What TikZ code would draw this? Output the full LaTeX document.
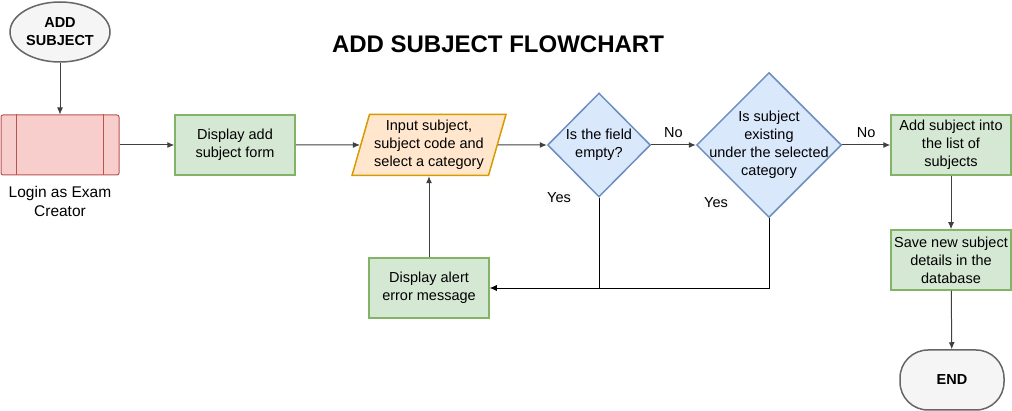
\documentclass[tikz,border=0pt]{standalone}
\usepackage{xcolor}
\usepackage{fontspec}
\setmainfont{Liberation Sans}
\definecolor{greenfill}{HTML}{D5E8D4}
\definecolor{greenline}{HTML}{82B366}
\definecolor{redfill}{HTML}{F8CECC}
\definecolor{redline}{HTML}{B85450}
\definecolor{orangefill}{HTML}{FFE6CC}
\definecolor{orangeline}{HTML}{D79B00}
\definecolor{bluefill}{HTML}{DAE8FC}
\definecolor{blueline}{HTML}{6C8EBF}
\definecolor{greyfill}{HTML}{F5F5F5}
\definecolor{greyline}{HTML}{666666}
\usepackage{tikz}
\usetikzlibrary{shapes.geometric,arrows.meta}
\tikzset{
    txt/.style={font=\fontsize{14.5}{18}\selectfont, align=center},
    task/.style={txt, draw=greenline, fill=greenfill, line width=1.5pt, minimum width=120pt, minimum height=60pt, inner sep=0pt},
    login/.style={draw=redline, fill=redfill, line width=1pt, rounded corners=2pt, minimum width=118pt, minimum height=60pt},
    inbox/.style={txt, trapezium, trapezium left angle=72, trapezium right angle=108, trapezium stretches=true, draw=orangeline, fill=orangefill, line width=1.5pt, minimum width=154pt, minimum height=61pt, inner sep=0pt},
    decision/.style={diamond, draw=blueline, fill=bluefill, line width=1.5pt, inner sep=0pt},
    terminal/.style={txt, font=\fontsize{14.5}{18}\selectfont\bfseries, draw=greyline, fill=greyfill, line width=1.5pt},
    flow/.style={-{Latex[length=7pt,width=6pt]}, line width=1pt, black!75},
    back/.style={line width=0.7pt, black}
}
\begin{document}
\begin{tikzpicture}[x=1pt, y=-1pt]
    \useasboundingbox (0,0) rectangle (1012,411);
    \node[font=\fontsize{24}{28}\selectfont\bfseries] (title) at (498,44) {ADD SUBJECT FLOWCHART};

    \node[terminal, ellipse, minimum width=100pt, minimum height=60pt, inner sep=0pt] (start) at (60,32) {ADD\\SUBJECT};
    \node[login] (creator) at (60,145) {};
    \draw[redline, line width=1pt] ([xshift=16pt]creator.north west) -- ([xshift=16pt]creator.south west);
    \draw[redline, line width=1pt] ([xshift=-16pt]creator.north east) -- ([xshift=-16pt]creator.south east);
    \node[txt, font=\fontsize{15.5}{19}\selectfont] (creatorlbl) at (60,201) {Login as Exam\\Creator};

    \node[task] (form) at (235,145) {Display add\\subject form};
    \node[inbox] (input) at (429,145) {Input subject,\\subject code and\\select a category};
    \node[decision, minimum width=103pt, minimum height=104pt, label={[txt]center:Is the field\\empty?}] (empty) at (599,145) {};
    \node[decision, minimum width=145pt, minimum height=145pt, label={[txt]center:Is subject\\existing\\under the selected\\category}] (exists) at (769,145) {};
    \node[task] (add) at (951,145) {Add subject into\\the list of\\subjects};
    \node[task] (save) at (951,260) {Save new subject\\details in the\\database};
    \node[terminal, rounded corners=28pt, minimum width=104pt, minimum height=60pt] (end) at (952,380) {END};
    \node[task] (alert) at (429,288) {Display alert\\error message};

    % main line
    \draw[flow] (start) -- (creator);
    \draw[flow] (creator) -- (form);
    \draw[flow] (form) -- (input);
    \draw[flow] (input) -- (empty);
    \draw[flow] (empty) -- node[txt, above=4pt, black] {No} (exists);
    \draw[flow] (exists) -- node[txt, above=4pt, black] {No} (add);
    \draw[flow] (add) -- (save);
    \draw[flow] (save) -- (end);

    % error loop
    \draw[back, -{Latex[length=7pt,width=6pt]}] (empty.south) |- (alert.east);
    \draw[back] (exists.south) |- (empty.south |- alert.east);
    \draw[flow] (alert) -- (input);
    \node[txt, fill=greyfill!50!white, inner sep=1pt] (yes1) at (559,198) {Yes};
    \node[txt, fill=greyfill!50!white, inner sep=1pt] (yes2) at (716,203) {Yes};
\end{tikzpicture}
\end{document}
